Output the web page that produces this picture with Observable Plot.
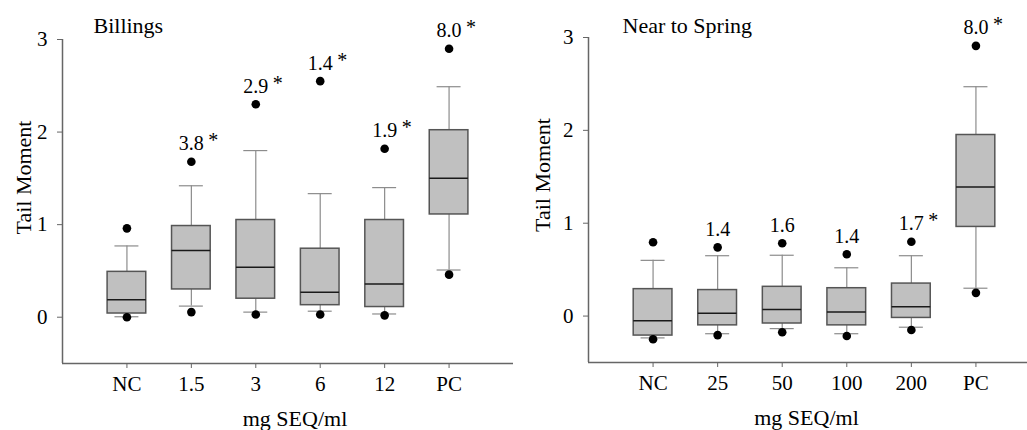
<!DOCTYPE html>
<html>
<head>
<meta charset="utf-8">
<script src="https://cdn.jsdelivr.net/npm/d3@7"></script>
<script src="https://cdn.jsdelivr.net/npm/@observablehq/plot@0.6"></script>
<style>
  html, body { margin: 0; padding: 0; background: #fff; overflow: hidden; }
  #wrap { width: 1027px; height: 430px; overflow: hidden; display: flex; flex-direction: row; }
  #wrap svg { flex: none; display: block; }
</style>
</head>
<body>
<div id="wrap"></div>
<script>
// ---- Billings panel ----
const billingsTitle = "Billings";
const billingsCats = ["NC", "1.5", "3", "6", "12", "PC"];
const billingsQ1 = [0.04, 0.30, 0.20, 0.13, 0.11, 1.11];
const billingsMedian = [0.19, 0.72, 0.54, 0.27, 0.36, 1.50];
const billingsQ3 = [0.49, 0.985, 1.05, 0.74, 1.05, 2.02];
const billingsWhiskerLo = [0.005, 0.12, 0.055, 0.065, 0.035, 0.51];
const billingsWhiskerHi = [0.77, 1.42, 1.80, 1.335, 1.40, 2.49];
const billingsOutlierLo = [0.00, 0.055, 0.03, 0.03, 0.02, 0.46];
const billingsOutlierHi = [0.96, 1.68, 2.30, 2.55, 1.82, 2.90];
const billingsLabels = ["", "3.8", "2.9", "1.4", "1.9", "8.0"];
const billingsStars = [false, true, true, true, true, true];

// ---- Near to Spring panel ----
const springTitle = "Near to Spring";
const springCats = ["NC", "25", "50", "100", "200", "PC"];
const springQ1 = [-0.21, -0.10, -0.08, -0.10, -0.02, 0.96];
const springMedian = [-0.05, 0.03, 0.07, 0.045, 0.10, 1.39];
const springQ3 = [0.29, 0.28, 0.315, 0.30, 0.35, 1.95];
const springWhiskerLo = [-0.235, -0.19, -0.135, -0.19, -0.12, 0.30];
const springWhiskerHi = [0.60, 0.65, 0.655, 0.52, 0.65, 2.47];
const springOutlierLo = [-0.25, -0.205, -0.175, -0.215, -0.15, 0.25];
const springOutlierHi = [0.795, 0.74, 0.785, 0.665, 0.80, 2.91];
const springLabels = ["", "1.4", "1.6", "1.4", "1.7", "8.0"];
const springStars = [false, false, false, false, true, true];

const yTicks = [0, 1, 2, 3];
const xAxisTitle = "mg SEQ/ml";
const yAxisTitle = "Tail Moment";

function rowsOf(cats, q1, med, q3, wlo, whi, olo, ohi, labels, stars) {
  return cats.map((c, k) => ({
    i: k + 1, cat: c, q1: q1[k], med: med[k], q3: q3[k],
    wlo: wlo[k], whi: whi[k], olo: olo[k], ohi: ohi[k],
    label: labels[k], star: stars[k]
  }));
}

const FONT = "'Liberation Serif', 'Times New Roman', serif";
const BOX = 0.30, CAP = 0.186;

function panel(rows, cats, title, o) {
  return Plot.plot({
    width: o.width, height: 430,
    marginLeft: o.ml, marginRight: o.mr, marginTop: o.mt, marginBottom: o.mb,
    style: { fontFamily: FONT, fontSize: "21px", color: "#000", background: "transparent" },
    x: { type: "linear", domain: [0, 7], label: null },
    y: { domain: [-0.5, 3], label: null },
    marks: [
      // axis lines
      Plot.ruleX([0], { stroke: "#666", strokeWidth: 1.5 }),
      Plot.ruleY([-0.5], { stroke: "#666", strokeWidth: 1.5 }),
      Plot.axisY({ ticks: yTicks, tickSize: 5, tickPadding: 10, stroke: "#666", fill: "#000", fontSize: 21, tickFormat: d3.format("d") }),
      Plot.axisX({ ticks: d3.range(1, cats.length + 1), tickSize: 5, tickPadding: 8, stroke: "#666", fill: "#000", fontSize: 21, tickFormat: i => cats[i - 1] }),
      // whiskers
      Plot.ruleX(rows, { x: "i", y1: "wlo", y2: "q1", stroke: "#8c8c8c", strokeWidth: 1.2 }),
      Plot.ruleX(rows, { x: "i", y1: "q3", y2: "whi", stroke: "#8c8c8c", strokeWidth: 1.2 }),
      Plot.ruleY(rows, { y: "whi", x1: d => d.i - CAP, x2: d => d.i + CAP, stroke: "#8c8c8c", strokeWidth: 1.2 }),
      Plot.ruleY(rows, { y: "wlo", x1: d => d.i - CAP, x2: d => d.i + CAP, stroke: "#8c8c8c", strokeWidth: 1.2 }),
      // boxes
      Plot.rect(rows, { x1: d => d.i - BOX, x2: d => d.i + BOX, y1: "q1", y2: "q3", fill: "#c0c0c0", stroke: "#555", strokeWidth: 1.5 }),
      Plot.ruleY(rows, { y: "med", x1: d => d.i - BOX, x2: d => d.i + BOX, stroke: "#1a1a1a", strokeWidth: 1.5 }),
      // outliers
      Plot.dot(rows, { x: "i", y: "ohi", r: 4.3, fill: "#000", stroke: null }),
      Plot.dot(rows, { x: "i", y: "olo", r: 4.3, fill: "#000", stroke: null }),
      // annotations
      Plot.text(rows.filter(d => d.label), { x: "i", y: "ohi", text: "label", dy: -18, lineAnchor: "middle", fontSize: 20, fill: "#000" }),
      Plot.text(rows.filter(d => d.star), { x: "i", y: "ohi", text: () => "*", dx: 22, dy: -21, lineAnchor: "middle", fontSize: 20, fill: "#000" }),
      // titles
      Plot.text([title], { frameAnchor: "top-left", textAnchor: "start", lineAnchor: "middle", dx: o.titleDx, dy: o.titleDy, fontSize: 22, fill: "#000" }),
      Plot.text([xAxisTitle], { frameAnchor: "bottom", textAnchor: "middle", lineAnchor: "middle", dx: o.xtDx, dy: 55, fontSize: 22, fill: "#000" }),
      Plot.text([yAxisTitle], { frameAnchor: "middle", textAnchor: "middle", rotate: -90, lineAnchor: "middle", dx: o.ytDx, dy: o.ytDy, fontSize: 22, fill: "#000" })
    ]
  });
}

const billingsRows = rowsOf(billingsCats, billingsQ1, billingsMedian, billingsQ3, billingsWhiskerLo, billingsWhiskerHi, billingsOutlierLo, billingsOutlierHi, billingsLabels, billingsStars);
const springRows = rowsOf(springCats, springQ1, springMedian, springQ3, springWhiskerLo, springWhiskerHi, springOutlierLo, springOutlierHi, springLabels, springStars);

const wrap = document.getElementById("wrap");
wrap.appendChild(panel(billingsRows, billingsCats, billingsTitle, {
  width: 515, ml: 62, mr: 2, mt: 39, mb: 67,
  titleDx: 31, titleDy: -14, xtDx: 7, ytDx: -264.5, ytDy: -24
}));
wrap.appendChild(panel(springRows, springCats, springTitle, {
  width: 525, ml: 73, mr: 0, mt: 37, mb: 68,
  titleDx: 34, titleDy: -12, xtDx: -8, ytDx: -272, ytDy: -25
}));
</script>
</body>
</html>
